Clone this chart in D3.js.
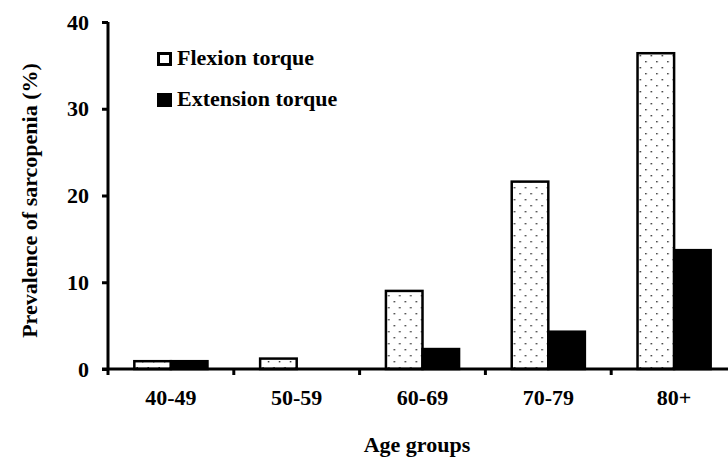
<!DOCTYPE html>
<html>
<head>
<meta charset="utf-8">
<script src="https://cdn.jsdelivr.net/npm/d3@7"></script>
<style>
  body { margin: 0; background: #fff; }
  svg { display: block; }
</style>
</head>
<body>
<script>
// data
const ageGroups = ["40-49", "50-59", "60-69", "70-79", "80+"];
const flexion = [0.9, 1.2, 9.0, 21.6, 36.4];
const extension = [0.9, 0, 2.3, 4.3, 13.7];
const yTicks = [0, 10, 20, 30, 40];
const seriesNames = ["Flexion torque", "Extension torque"];

const width = 728, height = 459;
const margin = {top: 22, right: -9, bottom: 90, left: 108};
const font = "'Liberation Serif', 'Times New Roman', serif";
const fontSize = "22px";

const svg = d3.select("body")
  .append("svg")
  .attr("width", width)
  .attr("height", height);

// dotted fill for flexion bars
const defs = svg.append("defs");
const pat = defs.append("pattern")
  .attr("id", "dots")
  .attr("patternUnits", "userSpaceOnUse")
  .attr("width", 11)
  .attr("height", 12);
pat.append("rect").attr("width", 11).attr("height", 12).attr("fill", "#fff");
pat.append("rect").attr("x", 1).attr("y", 1).attr("width", 1.4).attr("height", 1.4).attr("fill", "#222");
pat.append("rect").attr("x", 6.5).attr("y", 7).attr("width", 1.4).attr("height", 1.4).attr("fill", "#222");

const x = d3.scaleBand()
  .domain(ageGroups)
  .range([margin.left, width - margin.right])
  .paddingInner(0)
  .paddingOuter(0);

const inner = d3.scaleBand()
  .domain(seriesNames)
  .range([0, x.bandwidth()])
  .paddingOuter(0.72)
  .paddingInner(0);

const y = d3.scaleLinear()
  .domain([0, 40])
  .range([height - margin.bottom, margin.top]);

const rows = ageGroups.map((g, i) => ({group: g, values: [flexion[i], extension[i]]}));

svg.append("g")
  .selectAll("g.grp")
  .data(rows)
  .join("g")
    .attr("class", "grp")
    .attr("transform", d => `translate(${x(d.group)},0)`)
  .selectAll("rect")
  .data(d => d.values.map((v, j) => ({name: seriesNames[j], value: v})))
  .join("rect")
    .filter(d => d.value > 0)
    .attr("x", d => inner(d.name))
    .attr("y", d => y(d.value))
    .attr("width", inner.bandwidth())
    .attr("height", d => y(0) - y(d.value))
    .attr("fill", d => d.name === seriesNames[0] ? "url(#dots)" : "#000")
    .attr("stroke", "#000")
    .attr("stroke-width", 2.5);

// y axis
const yAxis = svg.append("g")
  .attr("transform", `translate(${margin.left},0)`)
  .call(d3.axisLeft(y).tickValues(yTicks).tickSize(6).tickPadding(13).tickFormat(d3.format("d")));
yAxis.select(".domain").attr("stroke-width", 3).attr("d", `M0,${y(40)}V${y(0)}`);
yAxis.selectAll(".tick line").attr("stroke-width", 3);
yAxis.selectAll(".tick text")
  .style("font-family", font).style("font-weight", "bold").style("font-size", fontSize).attr("fill", "#000");

// x axis
const xAxis = svg.append("g")
  .attr("transform", `translate(0,${y(0)})`)
  .call(d3.axisBottom(x).tickSize(0).tickPadding(20));
xAxis.select(".domain").attr("stroke-width", 3).attr("d", `M${margin.left - 6},0H${width}`);
xAxis.selectAll(".tick text")
  .style("font-family", font).style("font-weight", "bold").style("font-size", fontSize).attr("fill", "#000");
xAxis.selectAll("line.sep")
  .data(ageGroups)
  .join("line")
    .attr("class", "sep")
    .attr("x1", d => x(d)).attr("x2", d => x(d))
    .attr("y1", 0).attr("y2", 6)
    .attr("stroke", "#000").attr("stroke-width", 3);

// axis titles
svg.append("text")
  .attr("transform", `translate(37,${(y(0) + y(40)) / 2 + 5}) rotate(-90)`)
  .attr("text-anchor", "middle")
  .style("font-family", font).style("font-weight", "bold").style("font-size", fontSize)
  .text("Prevalence of sarcopenia (%)");

svg.append("text")
  .attr("x", 417)
  .attr("y", 452)
  .attr("text-anchor", "middle")
  .style("font-family", font).style("font-weight", "bold").style("font-size", fontSize)
  .text("Age groups");

// legend
const legend = svg.append("g").attr("transform", "translate(157,52)");
const li = legend.selectAll("g")
  .data(seriesNames)
  .join("g")
    .attr("transform", (d, i) => `translate(0,${i * 41})`);
li.append("rect")
  .attr("x", 1.5).attr("y", 1.5)
  .attr("width", 12).attr("height", 11)
  .attr("fill", (d, i) => i === 0 ? "#fff" : "#000")
  .attr("stroke", "#000").attr("stroke-width", 3);
li.append("text")
  .attr("x", 20).attr("y", 13)
  .style("font-family", font).style("font-weight", "bold").style("font-size", fontSize)
  .text(d => d);
</script>
</body>
</html>
